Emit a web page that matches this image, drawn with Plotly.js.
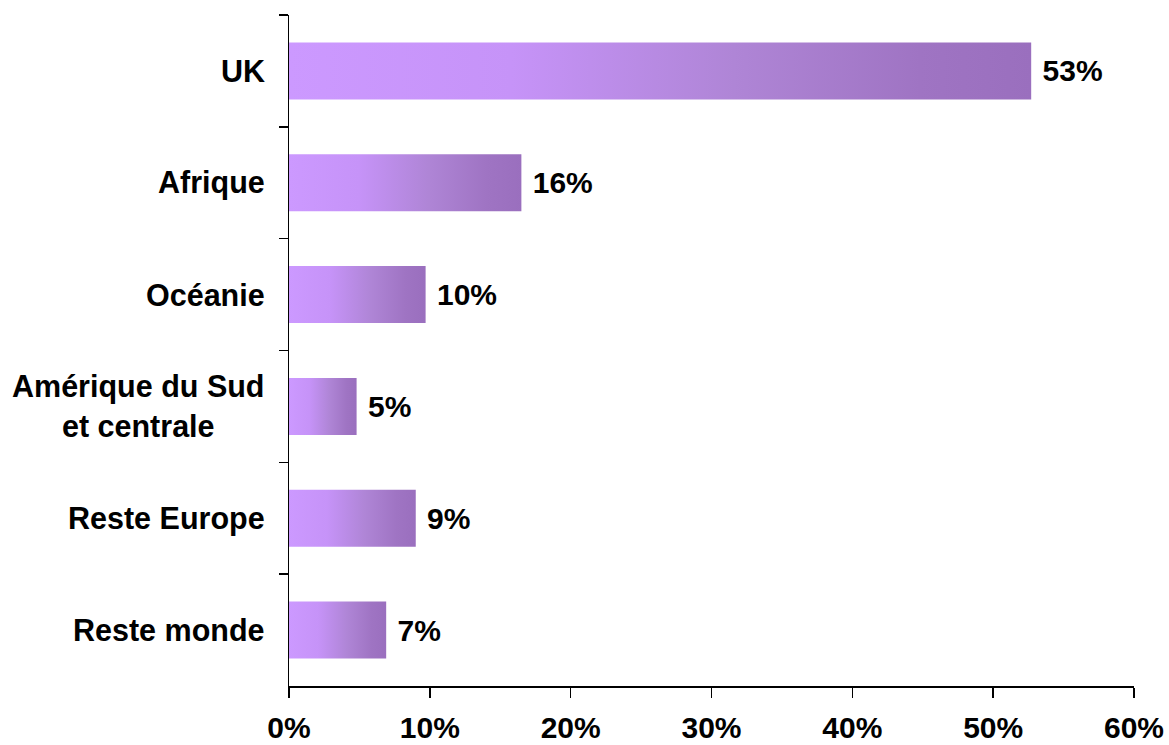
<!DOCTYPE html>
<html>
<head>
<meta charset="utf-8">
<script src="https://cdn.plot.ly/plotly-3.0.1.min.js"></script>
<style>html,body{margin:0;padding:0;background:#fff;}#chart{width:1169px;height:745px;}</style>
</head>
<body>
<div id="chart"></div>
<script>
const categories = ["UK", "Afrique", "Océanie", "Amérique du Sud<br>et centrale", "Reste Europe", "Reste monde"];
const shares = [0.527, 0.165, 0.097, 0.048, 0.090, 0.069];
const valueLabels = ["53%", "16%", "10%", "5%", "9%", "7%"];
const xTickVals = [0, 0.1, 0.2, 0.3, 0.4, 0.5, 0.6];

const FONT = "Liberation Sans, Arial, sans-serif";

const trace = {
  type: "bar",
  orientation: "h",
  x: shares,
  y: categories,
  text: valueLabels.map(t => "\u00a0" + t),
  textposition: "outside",
  cliponaxis: false,
  textfont: {family: FONT, size: 30, color: "#000", weight: "bold"},
  marker: {color: "#B585E4", line: {width: 0}},
  hoverinfo: "none"
};

const annotations = categories.map(c => ({
  xref: "paper", yref: "y", x: 0, y: c,
  xanchor: "right", yanchor: "middle", xshift: -22,
  text: "<b>" + c + "</b>", showarrow: false, align: "center",
  font: {family: FONT, size: 30.5, color: "#000"}
}));

const layout = {
  width: 1169, height: 745,
  margin: {l: 289, r: 35, t: 15, b: 59},
  paper_bgcolor: "#fff", plot_bgcolor: "#fff",
  showlegend: false,
  bargap: 0.49,
  font: {family: FONT, color: "#000"},
  xaxis: {
    range: [0, 0.6], tickvals: xTickVals, tickformat: ".0%",
    showgrid: false, zeroline: false,
    showline: true, linecolor: "#000", linewidth: 1.5,
    ticks: "outside", ticklen: 10, tickwidth: 1.5, tickcolor: "#000",
    tickfont: {family: FONT, size: 30, color: "#000", weight: "bold"},
    ticklabelstandoff: 4,
    fixedrange: true
  },
  yaxis: {
    type: "category", autorange: "reversed",
    showticklabels: false, showgrid: false, zeroline: false,
    showline: true, linecolor: "#000", linewidth: 1.5,
    ticks: "outside", tickson: "boundaries", ticklen: 9, tickwidth: 1.5, tickcolor: "#000",
    fixedrange: true
  },
  annotations: annotations
};

Plotly.newPlot("chart", [trace], layout, {staticPlot: true}).then(gd => {
  const svg = gd.querySelector("svg.main-svg");
  const ns = "http://www.w3.org/2000/svg";
  let defs = svg.querySelector("defs");
  if (!defs) { defs = document.createElementNS(ns, "defs"); svg.insertBefore(defs, svg.firstChild); }
  const lg = document.createElementNS(ns, "linearGradient");
  lg.setAttribute("id", "barGrad");
  lg.setAttribute("x1", "0"); lg.setAttribute("y1", "0");
  lg.setAttribute("x2", "1"); lg.setAttribute("y2", "0");
  [[0, "#CC99FF"], [0.3, "#C693F8"], [0.6, "#AF85D6"], [0.85, "#9F74C3"], [1, "#9A6FBE"]].forEach(([o, c]) => {
    const s = document.createElementNS(ns, "stop");
    s.setAttribute("offset", o); s.setAttribute("stop-color", c);
    lg.appendChild(s);
  });
  defs.appendChild(lg);
  gd.querySelectorAll(".barlayer .point path").forEach(p => { p.style.fill = "url(#barGrad)"; });
});
</script>
</body>
</html>
